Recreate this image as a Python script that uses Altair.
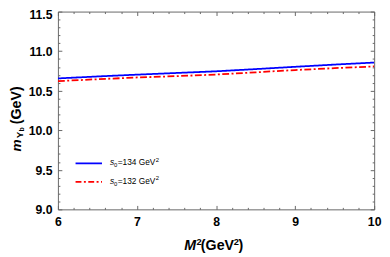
import altair as alt
import pandas as pd

# ---- data ----
M2 = [6.0, 6.5, 7.0, 7.5, 8.0, 8.5, 9.0, 9.5, 10.0]
m_s134 = [10.655, 10.680, 10.703, 10.724, 10.745, 10.773, 10.802, 10.830, 10.856]
m_s132 = [10.621, 10.645, 10.667, 10.684, 10.704, 10.732, 10.761, 10.785, 10.807]
s0_values = ["134", "132"]
series_names = ["s0=134 GeV2", "s0=132 GeV2"]
series_colors = ["#0000ff", "#ff0000"]

x_major = [6, 7, 8, 9, 10]
x_minor = [6.2, 6.4, 6.6, 6.8, 7.2, 7.4, 7.6, 7.8, 8.2, 8.4, 8.6, 8.8,
           9.2, 9.4, 9.6, 9.8]
y_major = [9.0, 9.5, 10.0, 10.5, 11.0, 11.5]
y_minor = [9.1, 9.2, 9.3, 9.4, 9.6, 9.7, 9.8, 9.9, 10.1, 10.2, 10.3, 10.4,
           10.6, 10.7, 10.8, 10.9, 11.1, 11.2, 11.3, 11.4]

df = pd.DataFrame({
    "M2": M2 + M2,
    "m": m_s134 + m_s132,
    "series": [series_names[0]] * len(M2) + [series_names[1]] * len(M2),
})
dummy = pd.DataFrame({"k": [0]})

W, H = 323, 202
FRAME = "#666666"
FONT = "Liberation Sans"

xs = alt.Scale(domain=[6, 10], nice=False, zero=False)
ys = alt.Scale(domain=[9, 11.5], nice=False, zero=False)


def axis(orient, values, size, labels=False, fmt=None, pad=5, loff=None):
    kw = dict(orient=orient, values=values, tickSize=size, offset=-size,
              tickColor=FRAME, tickWidth=1, domain=False, grid=False,
              title=None, labels=labels)
    if labels:
        kw.update(format=fmt, labelFont=FONT, labelFontWeight="bold",
                  labelFontSize=12.5, labelColor="black", labelPadding=pad,
                  labelOverlap=False, labelFlush=False)
        if loff is not None:
            kw["labelOffset"] = loff
    return alt.Axis(**kw)


y_label_offset = {"condition": {"test": "datum.value == 11.5", "value": 3},
                  "value": 0.5}

lines = alt.Chart(df).mark_line(strokeWidth=1.8, clip=True).encode(
    x=alt.X("M2:Q", scale=xs, axis=axis("bottom", x_major, 4, True, "d", 6)),
    y=alt.Y("m:Q", scale=ys,
            axis=axis("left", y_major, 4, True, ".1f", 6, y_label_offset)),
    color=alt.Color("series:N", legend=None,
                    scale=alt.Scale(domain=series_names, range=series_colors)),
    strokeDash=alt.StrokeDash("series:N", legend=None,
                              scale=alt.Scale(domain=series_names,
                                              range=[[1, 0], [7, 2.5, 2, 2.5]])),
)


def tick_layer(xax, yax):
    return alt.Chart(df).mark_point(opacity=0).encode(
        x=alt.X("M2:Q", scale=xs, axis=xax),
        y=alt.Y("m:Q", scale=ys, axis=yax),
    )


t_minor = tick_layer(axis("bottom", x_minor, 2), axis("left", y_minor, 2))
t_opp = tick_layer(axis("top", x_major, 4), axis("right", y_major, 4))
t_opp_minor = tick_layer(axis("top", x_minor, 2), axis("right", y_minor, 2))


def txt(text, x, y, size, weight="normal", style="normal", angle=0,
        color="black"):
    kw = dict(align="left", baseline="alphabetic", font=FONT, fontSize=size,
              fontWeight=weight, fontStyle=style, color=color)
    if angle:
        kw["angle"] = angle
    return alt.Chart(dummy).mark_text(**kw).encode(
        x=alt.value(x), y=alt.value(y), text=alt.value(text))


# axis titles
x_title = [
    txt("M", 129, 244, 14.5, "bold", "italic"),
    txt("2", 141.5, 238, 9.5, "bold"),
    txt("(GeV", 146, 244, 14.5, "bold"),
    txt("2", 179.5, 238, 9.5, "bold"),
    txt(")", 184.5, 244, 14.5, "bold"),
]
y_title = [
    txt("m", -37.5, 143, 14, "bold", "italic", 270),
    txt("\u03a5", -35.5, 129.5, 10, "bold", angle=270),
    txt("b", -34.5, 122.5, 7, "bold", angle=270),
    txt("(GeV)", -38, 115, 14.5, "bold", angle=270),
]

# legend
legend_layers = []
for i, (name, s0, col) in enumerate(zip(series_names, s0_values, series_colors)):
    ly = 155 + 19 * i
    by = ly + 2
    rule = alt.Chart(dummy).mark_rule(
        color=col, strokeWidth=1.8,
        strokeDash=[1, 0] if i == 0 else [6, 2.5, 2, 2.5]).encode(
        x=alt.value(18), x2=alt.value(45), y=alt.value(ly))
    legend_layers += [
        rule,
        txt("s", 53.3, by, 8.5, style="italic"),
        txt("0", 57.3, by + 2.2, 6),
        txt(f"={s0} GeV", 61, by, 8.5),
        txt("2", 100, by - 3.8, 6),
    ]

chart = alt.layer(lines, t_minor, t_opp, t_opp_minor,
                  *x_title, *y_title, *legend_layers).resolve_axis(
    x="independent", y="independent"
).properties(
    width=W, height=H,
    autosize=alt.AutoSizeParams(type="none"),
    padding={"left": 51, "top": 1, "right": 8, "bottom": 46},
).configure_view(stroke=FRAME, strokeWidth=1)

chart.save("out.html", embed_options={"renderer": "svg", "actions": False})
